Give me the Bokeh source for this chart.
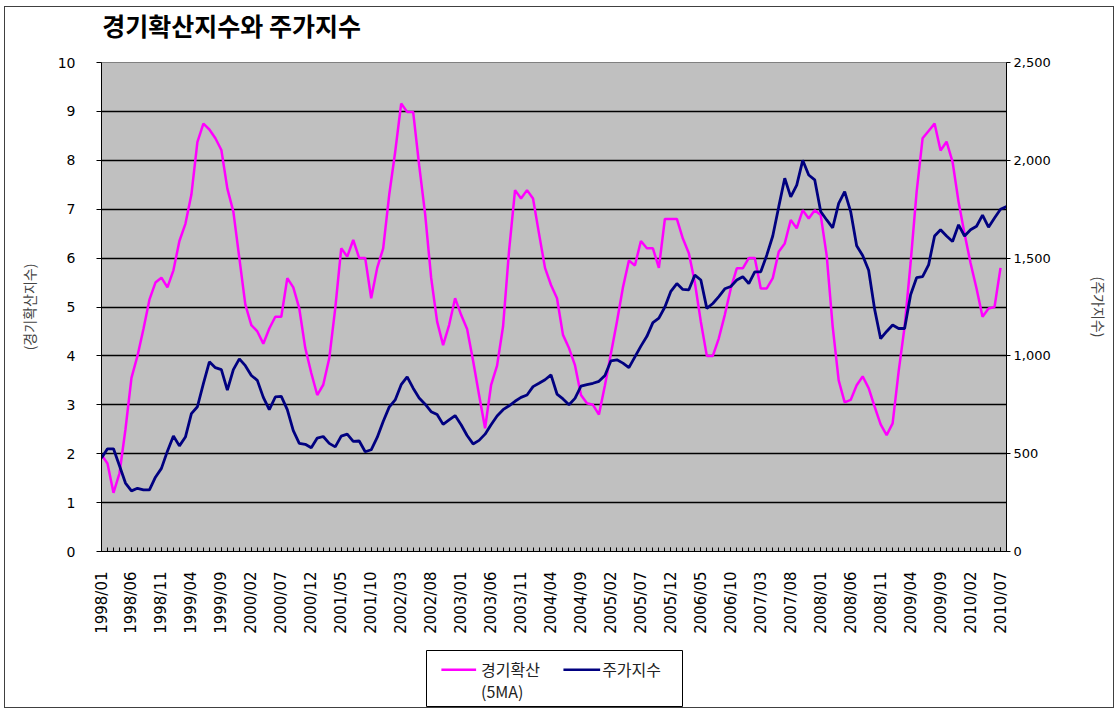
import math
from bokeh.plotting import figure
from bokeh.layouts import column, row
from bokeh.models import Range1d, LinearAxis, FixedTicker, NumeralTickFormatter, Spacer
from bokeh.core.properties import value
from bokeh.embed import file_html
from bokeh.resources import INLINE

# categories: monthly, 1998/01 .. 2010/08
months = [f"{1998 + m // 12}/{m % 12 + 1:02d}" for m in range(152)]
tick_labels = months[::5]  # 1998/01, 1998/06, ... 2010/07

# 경기확산지수 (5MA), left axis, 1998/01 .. 2010/07
diffusion = [
    1.98, 1.8, 1.2, 1.6, 2.5, 3.55, 4.0, 4.55, 5.15, 5.5,
    5.6, 5.4, 5.75, 6.35, 6.7, 7.3, 8.37, 8.75, 8.63, 8.45,
    8.21, 7.42, 6.95, 6.0, 5.05, 4.63, 4.5, 4.25, 4.56, 4.8,
    4.8, 5.59, 5.4, 4.97, 4.16, 3.65, 3.2, 3.41, 3.95, 4.97,
    6.2, 6.03, 6.37, 6.0, 6.0, 5.18, 5.8, 6.2, 7.29, 8.17,
    9.16, 8.99, 8.99, 7.9, 6.9, 5.6, 4.7, 4.22, 4.63, 5.18,
    4.84, 4.55, 3.9, 3.2, 2.52, 3.4, 3.8, 4.6, 6.15, 7.39,
    7.22, 7.39, 7.22, 6.5, 5.8, 5.45, 5.18, 4.43, 4.16, 3.81,
    3.2, 3.03, 3.0, 2.8, 3.4, 4.05, 4.7, 5.4, 5.95, 5.85,
    6.35, 6.2, 6.2, 5.8, 6.8, 6.8, 6.8, 6.4, 6.1, 5.5,
    4.7, 4.0, 4.0, 4.36, 4.84, 5.38, 5.79, 5.79, 6.0, 6.0,
    5.38, 5.38, 5.59, 6.13, 6.3, 6.78, 6.61, 6.98, 6.81, 6.98,
    6.88, 6.05, 4.6, 3.5, 3.05, 3.1, 3.4, 3.58, 3.34, 2.96,
    2.6, 2.38, 2.62, 3.68, 4.6, 5.9, 7.35, 8.45, 8.6, 8.75,
    8.2, 8.38, 7.97, 7.15, 6.5, 5.9, 5.38, 4.8, 4.97, 5.0,
    5.8,
]

# 주가지수, right axis, 1998/01 .. 2010/08
stock = [
    478, 525, 525, 438, 350, 310, 323, 315, 315, 380,
    425, 513, 590, 540, 585, 705, 740, 858, 970, 940,
    930, 825, 930, 985, 950, 900, 875, 788, 725, 790,
    793, 725, 618, 553, 548, 530, 580, 588, 553, 535,
    590, 600, 563, 565, 510, 520, 583, 665, 738, 775,
    853, 893, 835, 785, 753, 715, 700, 650, 673, 695,
    648, 593, 550, 568, 600, 648, 693, 725, 745, 768,
    788, 800, 843, 860, 878, 903, 805, 780, 750, 783,
    845, 853, 860, 870, 900, 975, 980, 963, 940, 995,
    1050, 1100, 1170, 1193, 1250, 1330, 1370, 1340, 1338, 1413,
    1388, 1243, 1268, 1303, 1343, 1355, 1388, 1405, 1370, 1430,
    1430, 1515, 1613, 1763, 1908, 1813, 1873, 2000, 1925, 1900,
    1738, 1695, 1655, 1780, 1840, 1738, 1563, 1513, 1438, 1238,
    1088, 1125, 1158, 1140, 1140, 1313, 1400, 1405, 1465, 1613,
    1645, 1613, 1585, 1670, 1613, 1645, 1663, 1720, 1658, 1705,
    1750, 1763,
]

title_text = "경기확산지수와 주가지수"
left_label = "(경기확산지수)"
right_label = "(주가지수)"
series_names = ["경기확산", "(5MA)", "주가지수"]

KR = "Noto Sans CJK KR"
NUM = "DejaVu Sans"
PINK = "#FF00FF"
NAVY = "#000080"

# title strip (no axes; its frame is aligned with the main plot's frame by the column)
tt = figure(width=1108, height=40, output_backend="svg", toolbar_location=None,
            x_axis_type=None, y_axis_type=None,
            x_range=Range1d(0, 1108), y_range=Range1d(40, 0), min_border=0)
tt.grid.visible = False
tt.outline_line_color = None
tt.background_fill_color = "white"
tt.border_fill_color = "white"
tt.text(x=[1], y=[17], text=[title_text], text_font=value(KR), text_font_size="25px",
        text_font_style="bold", text_baseline="middle", text_align="left", text_color="black")

p = figure(width=1108, height=602, output_backend="svg", toolbar_location=None,
           x_range=Range1d(0, len(months) - 1), y_range=Range1d(0, 10),
           min_border_left=96, min_border_right=107, min_border_top=15, min_border_bottom=98)

p.background_fill_color = "#C0C0C0"
p.border_fill_color = "white"
p.outline_line_color = "#808080"

p.extra_y_ranges = {"stock": Range1d(0, 2500)}

# x axis
tick_pos = [months.index(t) for t in tick_labels]
xa = p.xaxis[0]
xa.ticker = FixedTicker(ticks=tick_pos, minor_ticks=list(range(len(months))))
xa.major_label_overrides = {i: months[i] for i in tick_pos}
xa.major_label_orientation = math.pi / 2
xa.major_label_text_font = NUM
xa.major_label_text_font_size = "15px"
xa.major_label_text_color = "black"
xa.major_label_standoff = 20
xa.major_tick_in = 4
xa.major_tick_out = 0
xa.minor_tick_in = 4
xa.minor_tick_out = 0
xa.axis_line_color = "black"
xa.major_tick_line_color = "black"
xa.minor_tick_line_color = "black"

# left axis
ya = p.yaxis[0]
ya.ticker = FixedTicker(ticks=list(range(0, 11)))
ya.major_label_text_font = NUM
ya.major_label_text_font_size = "14px"
ya.major_label_text_color = "black"
ya.major_tick_out = 5
ya.major_tick_in = 0
ya.minor_tick_out = 0
ya.minor_tick_in = 0
ya.major_label_standoff = 21
ya.axis_line_color = "black"
ya.axis_label = left_label
ya.axis_label_text_font = KR
ya.axis_label_text_font_style = "normal"
ya.axis_label_text_font_size = "14px"
ya.axis_label_standoff = 16

# right axis
ra = LinearAxis(y_range_name="stock", ticker=FixedTicker(ticks=list(range(0, 2501, 500))),
                formatter=NumeralTickFormatter(format="0,0"))
ra.major_label_text_font = NUM
ra.major_label_text_font_size = "13px"
ra.major_label_text_color = "black"
ra.major_tick_out = 4
ra.major_tick_in = 0
ra.minor_tick_out = 0
ra.minor_tick_in = 0
ra.major_label_standoff = 3
ra.axis_line_color = "black"
ra.axis_label = right_label
ra.axis_label_text_font = KR
ra.axis_label_text_font_style = "normal"
ra.axis_label_text_font_size = "14px"
ra.axis_label_standoff = 35
p.add_layout(ra, "right")

p.xgrid.visible = False
p.ygrid.ticker = FixedTicker(ticks=list(range(0, 11)))
p.ygrid.grid_line_color = "black"
p.ygrid.grid_line_width = 1.3

p.line(list(range(len(diffusion))), diffusion, line_color=PINK, line_width=2.5)
p.line(list(range(len(stock))), stock, y_range_name="stock", line_color=NAVY, line_width=2.8)

# legend box as its own small figure (pixel coordinates inside the box)
lg = figure(width=258, height=58, output_backend="svg", toolbar_location=None,
            x_axis_type=None, y_axis_type=None,
            x_range=Range1d(0, 258), y_range=Range1d(58, 0), min_border=1)
lg.grid.visible = False
lg.outline_line_color = "black"
lg.outline_line_width = 1
lg.background_fill_color = "white"
lg.border_fill_color = "white"
lg.segment(x0=[15, 138], y0=[20, 20], x1=[50, 175], y1=[20, 20],
           line_color=[PINK, NAVY], line_width=2.5)
lg.text(x=[55, 55, 177], y=[19, 42, 19], text=series_names,
        text_font=value(KR), text_font_size="16px", text_baseline="middle",
        text_align="left", text_color="#222222")

layout = column(tt, p, row(Spacer(width=420, height=58), lg))
layout.styles = {"border": "1px solid #404040", "margin-left": "4px", "margin-top": "6px",
                 "background-color": "white"}

open("out.html", "w").write(file_html(layout, INLINE))
